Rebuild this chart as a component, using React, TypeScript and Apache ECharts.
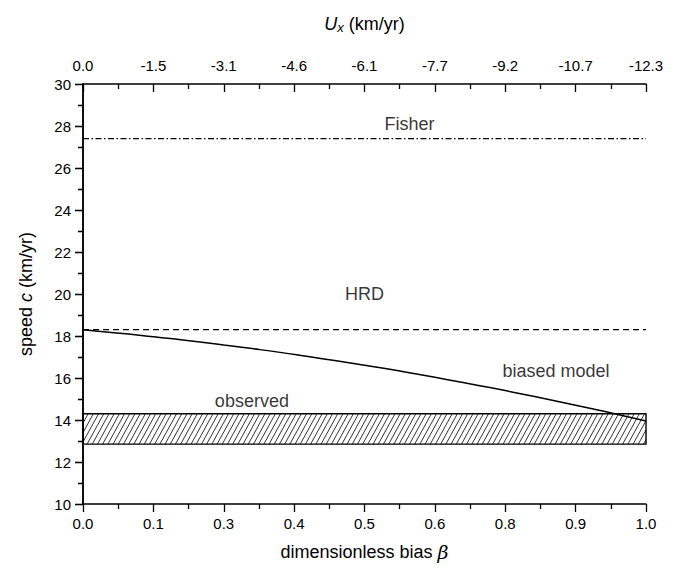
import React, { useEffect, useRef } from "react";
import * as echarts from "echarts";

const bottomTickLabels = ["0.0", "0.1", "0.3", "0.4", "0.5", "0.6", "0.8", "0.9", "1.0"];
const topTickLabels = ["0.0", "-1.5", "-3.1", "-4.6", "-6.1", "-7.7", "-9.2", "-10.7", "-12.3"];

const betaValues = [0, 0.05, 0.1, 0.15, 0.2, 0.25, 0.3, 0.35, 0.4, 0.45, 0.5, 0.55, 0.6, 0.65, 0.7, 0.75, 0.8, 0.85, 0.9, 0.95, 1.0];
const biasedModel = [18.3, 18.17, 18.04, 17.89, 17.74, 17.57, 17.4, 17.22, 17.02, 16.82, 16.61, 16.39, 16.15, 15.91, 15.66, 15.4, 15.13, 14.85, 14.56, 14.26, 13.95];

const fisherSpeed = 27.4;
const hrdSpeed = 18.3;
const observedBand = [12.85, 14.3];

const annotations = [
  { name: "Fisher", beta: 0.58, c: 28.1 },
  { name: "HRD", beta: 0.5, c: 20.0 },
  { name: "biased model", beta: 0.84, c: 16.35 },
  { name: "observed", beta: 0.3, c: 14.92 },
];

const FONT = "'Liberation Sans', Arial, Helvetica, sans-serif";

export default function App() {
  const ref = useRef<HTMLDivElement>(null);
  useEffect(() => {
    document.body.style.margin = "0";
    if (!ref.current) return;
    const chart = echarts.init(ref.current, undefined, { renderer: "svg" });
    const axisLine = { show: true, lineStyle: { color: "#000", width: 1.5 } };
    const tickIdx = (v: number) => Math.round(v / 0.125);
    const option: any = {
      animation: false,
      backgroundColor: "#fff",
      textStyle: { fontFamily: FONT },
      grid: { left: 83, right: 35, top: 84, bottom: 65 },
      xAxis: [
        {
          type: "value", position: "bottom", min: 0, max: 1, interval: 0.125,
          axisLine, splitLine: { show: false },
          axisTick: { show: true, inside: false, length: 8, lineStyle: { color: "#000", width: 1.3 } },
          minorTick: { show: true, splitNumber: 2, length: 5, lineStyle: { color: "#000", width: 1.3 } },
          axisLabel: { color: "#000", fontSize: 15, margin: 12, fontFamily: FONT, formatter: (v: number) => bottomTickLabels[tickIdx(v)] ?? "" },
          name: "{t|dimensionless bias }{b|β}",
          nameLocation: "middle", nameGap: 38,
          nameTextStyle: {
            rich: {
              t: { fontSize: 18, color: "#000", fontFamily: FONT },
              b: { fontSize: 19, color: "#000", fontStyle: "italic", fontFamily: "'DejaVu Serif', 'Liberation Serif', serif" },
            },
          },
        },
        {
          type: "value", position: "top", min: 0, max: 1, interval: 0.125,
          axisLine, splitLine: { show: false },
          axisTick: { show: true, inside: true, length: 8, lineStyle: { color: "#000", width: 1.3 } },
          minorTick: { show: true, splitNumber: 2, length: 5, lineStyle: { color: "#000", width: 1.3 } },
          axisLabel: { color: "#000", fontSize: 15, margin: 11, fontFamily: FONT, formatter: (v: number) => topTickLabels[tickIdx(v)] ?? "" },
          name: "{u|U}{s|x}{t| (km/yr)}",
          nameLocation: "middle", nameGap: 50,
          nameTextStyle: {
            rich: {
              u: { fontSize: 18, color: "#000", fontStyle: "italic", fontFamily: FONT },
              s: { fontSize: 13, color: "#000", fontStyle: "italic", fontFamily: FONT, verticalAlign: "bottom", padding: [8, 0, 0, 0] },
              t: { fontSize: 18, color: "#000", fontFamily: FONT },
            },
          },
        },
      ],
      yAxis: [
        {
          type: "value", position: "left", min: 10, max: 30, interval: 2,
          axisLine, splitLine: { show: false },
          axisTick: { show: true, inside: false, length: 8, lineStyle: { color: "#000", width: 1.3 } },
          minorTick: { show: true, splitNumber: 2, length: 5, lineStyle: { color: "#000", width: 1.3 } },
          axisLabel: { color: "#000", fontSize: 15, margin: 12, fontFamily: FONT },
          name: "{t|speed }{c|c}{t| (km/yr)}",
          nameLocation: "middle", nameGap: 48, nameRotate: 90,
          nameTextStyle: {
            rich: {
              t: { fontSize: 18, color: "#000", fontFamily: FONT },
              c: { fontSize: 18, color: "#000", fontStyle: "italic", fontFamily: FONT },
            },
          },
        },
        {
          type: "value", position: "right", min: 10, max: 30, interval: 2,
          axisLine, splitLine: { show: false },
          axisTick: { show: true, inside: true, length: 8, lineStyle: { color: "#000", width: 1.3 } },
          minorTick: { show: true, splitNumber: 2, length: 5, lineStyle: { color: "#000", width: 1.3 } },
          axisLabel: { show: false },
        },
      ],
      series: [
        {
          type: "custom",
          name: "observed band",
          xAxisIndex: 0, yAxisIndex: 0,
          data: [[0, 1, observedBand[0], observedBand[1]]],
          encode: { x: [0, 1], y: [2, 3] },
          renderItem: (params: any, api: any) => {
            const tl = api.coord([api.value(0), api.value(3)]);
            const br = api.coord([api.value(1), api.value(2)]);
            const L = tl[0], T = tl[1], R = br[0], B = br[1];
            const h = B - T;
            const dx = h * 0.55;
            const step = 5.2;
            const children: any[] = [];
            for (let s = L - dx; s < R; s += step) {
              let x1 = s, y1 = B, x2 = s + dx, y2 = T;
              if (x1 < L) { y1 = B - ((L - s) / dx) * h; x1 = L; }
              if (x2 > R) { y2 = B - ((R - s) / dx) * h; x2 = R; }
              children.push({
                type: "line",
                shape: { x1, y1, x2, y2 },
                style: { stroke: "#000", lineWidth: 0.8 },
              });
            }
            children.push({
              type: "rect",
              shape: { x: L, y: T, width: R - L, height: h },
              style: { fill: "none", stroke: "#000", lineWidth: 1.4 },
            });
            return { type: "group", children };
          },
          z: 2,
        },
        {
          type: "line", name: "Fisher", xAxisIndex: 0, yAxisIndex: 0,
          data: [[0, fisherSpeed], [1, fisherSpeed]], showSymbol: false, symbol: "none",
          lineStyle: { color: "#000", width: 1.2, type: [6, 2.5, 1.5, 2.5] },
        },
        {
          type: "line", name: "HRD", xAxisIndex: 0, yAxisIndex: 0,
          data: [[0, hrdSpeed], [1, hrdSpeed]], showSymbol: false, symbol: "none",
          lineStyle: { color: "#000", width: 1.2, type: [6, 4] },
        },
        {
          type: "line", name: "biased model", xAxisIndex: 0, yAxisIndex: 0,
          data: betaValues.map((b, i) => [b, biasedModel[i]]), showSymbol: false, symbol: "none",
          smooth: true,
          lineStyle: { color: "#000", width: 1.5 },
          z: 3,
        },
        {
          type: "scatter", name: "labels", xAxisIndex: 0, yAxisIndex: 0,
          symbolSize: 0,
          data: annotations.map((a) => ({ name: a.name, value: [a.beta, a.c] })),
          label: {
            show: true, position: "inside", formatter: (p: any) => p.name,
            color: "#000", fontSize: 18, fontFamily: FONT,
          },
          silent: true,
          z: 4,
        },
      ],
    };
    chart.setOption(option);
    return () => chart.dispose();
  }, []);
  return <div ref={ref} style={{ width: 681, height: 569 }} />;
}
